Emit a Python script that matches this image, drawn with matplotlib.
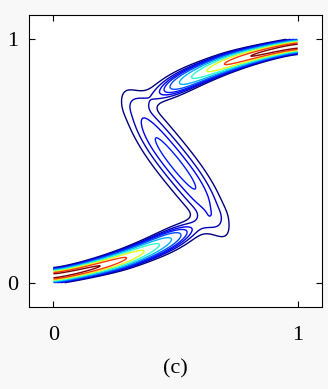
import numpy as np
import matplotlib
matplotlib.use('Agg')
import matplotlib.pyplot as plt

# conditional density p(t|x) as a 3-branch mixture, parameters read at x knots
x_knots = [0.0, 0.1, 0.2, 0.3, 0.4, 0.5, 0.6, 0.7, 0.8, 0.9, 1.0]
# lower branch
mu_low = [0.025, 0.045, 0.07, 0.1, 0.14, 0.185, 0.23, 0.27, 0.3, 0.33, 0.36]
sd_low = [0.012, 0.013, 0.015, 0.018, 0.022, 0.028, 0.032, 0.032, 0.032, 0.032, 0.032]
w_low = [1.0, 1.0, 1.0, 0.85, 0.65, 0.3, 0.05, 0.0, 0.0, 0.0, 0.0]
# middle (backward) branch
mu_mid = [1.08, 0.96, 0.84, 0.73, 0.61, 0.49, 0.37, 0.25, 0.13, 0.01, -0.1]
sd_mid = [0.08, 0.08, 0.08, 0.08, 0.08, 0.08, 0.08, 0.08, 0.08, 0.08, 0.08]
w_mid = [0.0, 0.0, 0.0, 0.13, 0.55, 0.55, 0.55, 0.13, 0.0, 0.0, 0.0]
# upper branch
mu_up = [0.64, 0.67, 0.7, 0.73, 0.77, 0.815, 0.86, 0.9, 0.93, 0.955, 0.975]
sd_up = [0.032, 0.032, 0.032, 0.032, 0.032, 0.028, 0.022, 0.018, 0.015, 0.013, 0.012]
w_up = [0.0, 0.0, 0.0, 0.0, 0.05, 0.3, 0.65, 0.85, 1.0, 1.0, 1.0]

levels = [0.02, 0.035, 0.05, 0.065, 0.09, 0.14, 0.22, 0.35, 0.55, 0.8]
level_cols = [0.0, 0.05, 0.1, 0.15, 0.2, 0.3, 0.4, 0.62, 0.85, 1.0]
ticks = [0, 1]
label = '(c)'


def smooth_curve(x, xk, vals, width=0.04):
    v = np.interp(x, xk, vals)
    dx = x[1] - x[0]
    k = np.exp(-0.5 * (np.arange(-3 * width, 3 * width + dx, dx) / width) ** 2)
    k /= k.sum()
    n = len(k) // 2
    vp = np.pad(v, n, mode='edge')
    return np.convolve(vp, k, mode='same')[n:-n]


x = np.linspace(0, 1, 500)
t = np.linspace(0, 1, 500)
X, T = np.meshgrid(x, t)

branches = [(mu_low, sd_low, w_low), (mu_mid, sd_mid, w_mid), (mu_up, sd_up, w_up)]
wsum = sum(smooth_curve(x, x_knots, b[2]) for b in branches)
P = np.zeros_like(X)
for mu, sd, w in branches:
    m = smooth_curve(x, x_knots, mu)
    s = smooth_curve(x, x_knots, sd)
    ww = smooth_curve(x, x_knots, w) / wsum
    P += ww / (s * np.sqrt(2 * np.pi)) * np.exp(-0.5 * ((T - m) / s) ** 2)
P = P / P.max()

plt.rcParams['font.family'] = ['Liberation Serif', 'DejaVu Serif']
fig = plt.figure(figsize=(3.28, 3.89), dpi=100, facecolor='#f8f8f8')
ax = fig.add_axes([0.0884, 0.2108, 0.8936, 0.7506])
ax.contour(X, T, P, levels=levels, colors=[plt.cm.jet(c) for c in level_cols], linewidths=1.0)
ax.set_xlim(-0.1, 1.1)
ax.set_ylim(-0.1, 1.1)
ax.set_xticks(ticks)
ax.set_yticks(ticks)
ax.tick_params(direction='in', top=True, right=True, length=4, labelsize=16, pad=8)
ax.tick_params(axis='x', pad=14)
ax.set_xlabel(label, fontsize=16, labelpad=10)
fig.savefig('out.png', dpi=100, facecolor=fig.get_facecolor())
